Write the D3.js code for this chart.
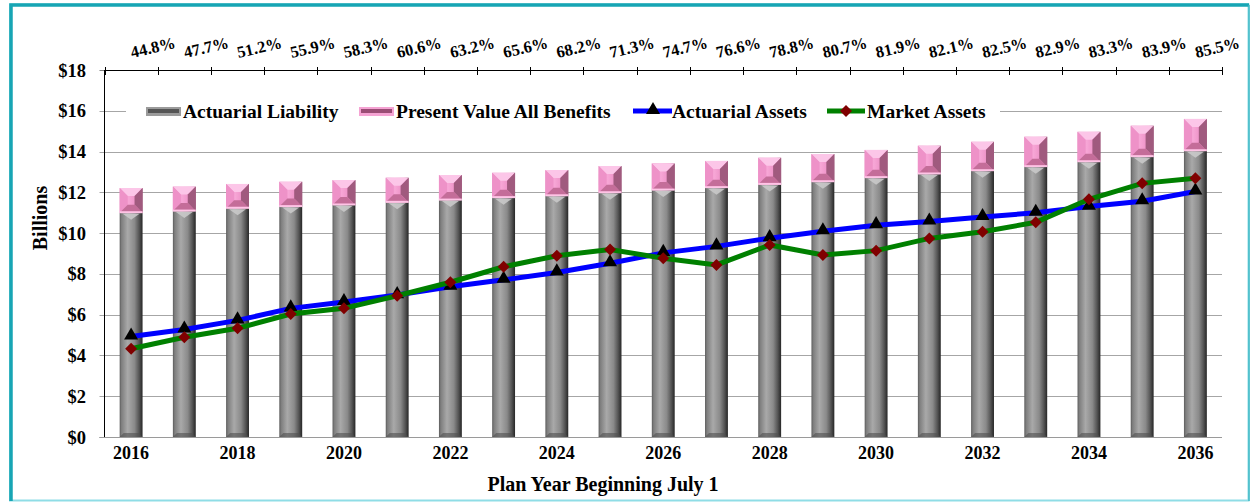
<!DOCTYPE html>
<html>
  <head>
    <meta charset="utf-8">
    <script src="https://d3js.org/d3.v7.min.js"></script>
    <style>
      body { margin: 0; background: #fff; }
      text { font-family: "Liberation Serif", "Times New Roman", serif; font-weight: bold; fill: #000; }
    </style>
    <title>funding projection</title>
  </head>
  <body>
    <div id="chart"></div>
    <script>
    // ---- data (billions)
    var years = [2016,2017,2018,2019,2020,2021,2022,2023,2024,2025,2026,2027,2028,2029,2030,2031,2032,2033,2034,2035,2036]
    var liability = [11.0,11.08,11.22,11.3,11.38,11.51,11.62,11.74,11.83,11.98,12.11,12.23,12.39,12.52,12.72,12.9,13.06,13.26,13.5,13.75,14.04]
    var pvBenefits = [12.21,12.28,12.41,12.52,12.6,12.72,12.85,12.96,13.09,13.29,13.42,13.54,13.7,13.88,14.08,14.29,14.48,14.73,14.97,15.27,15.6]
    var actuarialAssets = [4.93,5.27,5.72,6.31,6.62,6.96,7.37,7.71,8.07,8.52,9.03,9.35,9.75,10.09,10.39,10.57,10.79,11.0,11.3,11.56,12.04]
    var marketAssets = [4.33,4.89,5.33,6.03,6.31,6.93,7.59,8.35,8.89,9.2,8.77,8.44,9.42,8.93,9.14,9.74,10.07,10.53,11.66,12.44,12.69]
    var fundedRatio = ["44.8%","47.7%","51.2%","55.9%","58.3%","60.6%","63.2%","65.6%","68.2%","71.3%","74.7%","76.6%","78.8%","80.7%","81.9%","82.1%","82.5%","82.9%","83.3%","83.9%","85.5%"]
    var yTicks = [0,2,4,6,8,10,12,14,16,18]
    var xLabels = [2016,2018,2020,2022,2024,2026,2028,2030,2032,2034,2036]

    var W = 1251, H = 503
    var plot = {left: 104.5, right: 1222, top: 70, bottom: 437}

    var svg = d3.select("#chart").append("svg")
      .attr("width", W).attr("height", H)

    // gradients for the shaded bars
    var defs = svg.append("defs")
    var g1 = defs.append("linearGradient").attr("id", "grayBar")
    ;[[0,"#5c5c5c"],[0.08,"#7e7e7e"],[0.35,"#a9a9a9"],[0.65,"#8a8a8a"],[0.85,"#555"],[1,"#262626"]]
      .forEach(function(s){ g1.append("stop").attr("offset", s[0]).attr("stop-color", s[1]) })
    var g2 = defs.append("linearGradient").attr("id", "pinkBar")
    ;[[0,"#e68bc0"],[0.4,"#f7a6d6"],[0.8,"#ea8cc2"],[1,"#9a5276"]]
      .forEach(function(s){ g2.append("stop").attr("offset", s[0]).attr("stop-color", s[1]) })

    var x = d3.scaleBand().domain(years).range([plot.left, plot.right]).padding(0)
    var y = d3.scaleLinear().domain([0, 18]).range([plot.bottom, plot.top])
    var bw = x.bandwidth() * 0.43
    function cx(d) { return x(d) + x.bandwidth() / 2 }

    // frame
    svg.append("rect").attr("x", 10).attr("y", 4.5).attr("width", 1238.5).attr("height", 496)
      .attr("fill", "none").attr("stroke", "#8fdde6").attr("stroke-width", 2)
    svg.append("path").attr("d", "M11,501 V5 H1249")
      .attr("fill", "none").attr("stroke", "#17a5b4").attr("stroke-width", 3.5)
    svg.append("line").attr("x1", 1249).attr("x2", 1249).attr("y1", 5).attr("y2", 501)
      .attr("stroke", "#3fb8c6").attr("stroke-width", 1.5)

    // grid lines + left ticks
    svg.selectAll(".grid").data(yTicks.filter(function(t){ return t > 0 && t < 18 })).enter()
      .append("line")
      .attr("x1", plot.left - 5).attr("x2", plot.right)
      .attr("y1", function(d){ return Math.round(y(d)) + 0.5 })
      .attr("y2", function(d){ return Math.round(y(d)) + 0.5 })
      .attr("stroke", "#a6a6a6").attr("stroke-width", 1)
    svg.selectAll(".lt").data([0, 18]).enter().append("line")
      .attr("x1", plot.left - 5).attr("x2", plot.left)
      .attr("y1", function(d){ return Math.round(y(d)) + 0.5 })
      .attr("y2", function(d){ return Math.round(y(d)) + 0.5 })
      .attr("stroke", "#808080")

    // y tick labels
    svg.selectAll(".yl").data(yTicks).enter().append("text")
      .attr("x", 86).attr("y", function(d){ return y(d) + 6.5 })
      .attr("text-anchor", "end").style("font-size", "18.5px")
      .text(function(d){ return "$" + d })

    // bars: liability (gray) and pv benefits on top (pink)
    var bars = svg.selectAll(".bar").data(years).enter().append("g")
    bars.each(function(d, i) {
      var g = d3.select(this)
      var x0 = cx(d) - bw / 2
      var yL = y(liability[i]), yP = y(pvBenefits[i]), y0 = y(0)
      g.append("rect").attr("x", x0).attr("y", yL).attr("width", bw).attr("height", y0 - yL)
        .attr("fill", "url(#grayBar)")
      // little light chevron under the top of the gray bar
      g.append("path")
        .attr("d", "M" + (x0 + 3) + "," + (yL + 1) + " L" + (x0 + bw / 2) + "," + (yL + 7) + " L" + (x0 + bw - 3) + "," + (yL + 1) + "Z")
        .attr("fill", "#c9c9c9").attr("opacity", 0.9)
      // dark bevel at the foot
      g.append("path")
        .attr("d", "M" + x0 + "," + y0 + " L" + (x0 + 4) + "," + (y0 - 4) + " H" + (x0 + bw - 4) + " L" + (x0 + bw) + "," + y0 + "Z")
        .attr("fill", "#505050").attr("opacity", 0.6)

      // pink beveled block
      var h = yL - yP, dd = Math.min(8, h / 2), x1 = x0 + bw
      g.append("rect").attr("x", x0).attr("y", yP).attr("width", bw).attr("height", h)
        .attr("fill", "url(#pinkBar)")
      g.append("path") // top face
        .attr("d", "M" + x0 + "," + yP + " H" + x1 + " L" + (x1 - dd) + "," + (yP + dd) + " H" + (x0 + dd) + "Z")
        .attr("fill", "#fcc6e8")
      g.append("path") // left face
        .attr("d", "M" + x0 + "," + yP + " L" + (x0 + dd) + "," + (yP + dd) + " V" + (yL - dd) + " L" + x0 + "," + yL + "Z")
        .attr("fill", "#ee92c8")
      g.append("path") // right face
        .attr("d", "M" + x1 + "," + yP + " L" + (x1 - dd) + "," + (yP + dd) + " V" + (yL - dd) + " L" + x1 + "," + yL + "Z")
        .attr("fill", "#a05a7e")
      g.append("path") // bottom face
        .attr("d", "M" + x0 + "," + yL + " L" + (x0 + dd) + "," + (yL - dd) + " H" + (x1 - dd) + " L" + x1 + "," + yL + "Z")
        .attr("fill", "#c46d99")
      g.append("line").attr("x1", x0).attr("x2", x1).attr("y1", yL - 0.5).attr("y2", yL - 0.5)
        .attr("stroke", "#ffc4e6").attr("stroke-width", 2)
    })

    // axes lines
    svg.append("line").attr("x1", plot.left).attr("x2", plot.left).attr("y1", plot.top).attr("y2", plot.bottom)
      .attr("stroke", "#000")
    svg.append("line").attr("x1", plot.left - 5).attr("x2", plot.right).attr("y1", plot.bottom + 0.5).attr("y2", plot.bottom + 0.5)
      .attr("stroke", "#9a9a9a")
    svg.append("line").attr("x1", plot.left).attr("x2", plot.right).attr("y1", plot.top + 0.5).attr("y2", plot.top + 0.5)
      .attr("stroke", "#000")
    // top ticks at category boundaries
    var bounds = years.map(function(d){ return x(d) }).concat([plot.right])
    svg.selectAll(".tt").data(bounds).enter().append("line")
      .attr("x1", function(d){ return Math.round(d) + 0.5 }).attr("x2", function(d){ return Math.round(d) + 0.5 })
      .attr("y1", plot.top - 3).attr("y2", plot.top + 5)
      .attr("stroke", "#000")

    // funded ratio labels along the top
    svg.selectAll(".pct").data(years).enter().append("text")
      .attr("transform", function(d){ return "translate(" + (cx(d) + 1) + ",58) rotate(-13)" })
      .style("font-size", "16.5px")
      .text(function(d, i){ return fundedRatio[i] })

    // x labels
    svg.selectAll(".xl").data(xLabels).enter().append("text")
      .attr("x", function(d){ return cx(d) }).attr("y", 459)
      .attr("text-anchor", "middle").style("font-size", "18px")
      .text(function(d){ return d })

    // lines
    var line = d3.line().x(function(d){ return cx(d[0]) }).y(function(d){ return y(d[1]) })
    var aaPts = years.map(function(d, i){ return [d, actuarialAssets[i]] })
    var maPts = years.map(function(d, i){ return [d, marketAssets[i]] })
    var tri = d3.symbol().type(d3.symbolTriangle).size(85)
    var dia = d3.symbol().type(d3.symbolSquare).size(72)

    svg.append("path").attr("d", line(aaPts)).attr("fill", "none")
      .attr("stroke", "#0000ff").attr("stroke-width", 5)
    svg.selectAll(".tri").data(aaPts).enter().append("path")
      .attr("d", tri).attr("transform", function(d){ return "translate(" + cx(d[0]) + "," + (y(d[1]) - 1) + ")" })
      .attr("fill", "#000")
    svg.append("path").attr("d", line(maPts)).attr("fill", "none")
      .attr("stroke", "#008000").attr("stroke-width", 5)
    svg.selectAll(".dia").data(maPts).enter().append("path")
      .attr("d", dia).attr("transform", function(d){ return "translate(" + cx(d[0]) + "," + y(d[1]) + ") rotate(45)" })
      .attr("fill", "#800000")

    // legend
    var lg = svg.append("g")
    lg.append("rect").attr("x", 126).attr("y", 100).attr("width", 874).attr("height", 22).attr("fill", "#fff")
    function legendBar(x0, fill, edge) {
      lg.append("rect").attr("x", x0).attr("y", 107).attr("width", 35).attr("height", 9).attr("fill", fill)
      lg.append("rect").attr("x", x0 + 2).attr("y", 109).attr("width", 31).attr("height", 4).attr("fill", edge)
    }
    legendBar(146, "#9b9b9b", "#555")
    legendBar(359, "#f5a3d3", "#9a4d75")
    lg.append("line").attr("x1", 633).attr("x2", 672).attr("y1", 111).attr("y2", 111)
      .attr("stroke", "#0000ff").attr("stroke-width", 5)
    lg.append("path").attr("d", tri).attr("transform", "translate(653,110)").attr("fill", "#000")
    lg.append("line").attr("x1", 827).attr("x2", 865).attr("y1", 111).attr("y2", 111)
      .attr("stroke", "#008000").attr("stroke-width", 5)
    lg.append("path").attr("d", dia).attr("transform", "translate(846,111) rotate(45)").attr("fill", "#800000")
    var legendText = [[183, "Actuarial Liability"], [396, "Present Value All Benefits"], [672, "Actuarial Assets"], [867, "Market Assets"]]
    lg.selectAll("text").data(legendText).enter().append("text")
      .attr("x", function(d){ return d[0] }).attr("y", 118).style("font-size", "19.5px")
      .text(function(d){ return d[1] })

    // axis titles
    svg.append("text").attr("transform", "translate(47,218) rotate(-90)")
      .attr("text-anchor", "middle").style("font-size", "20px").text("Billions")
    svg.append("text").attr("x", 603).attr("y", 491)
      .attr("text-anchor", "middle").style("font-size", "20px").text("Plan Year Beginning July 1")
    </script>
  </body>
</html>
